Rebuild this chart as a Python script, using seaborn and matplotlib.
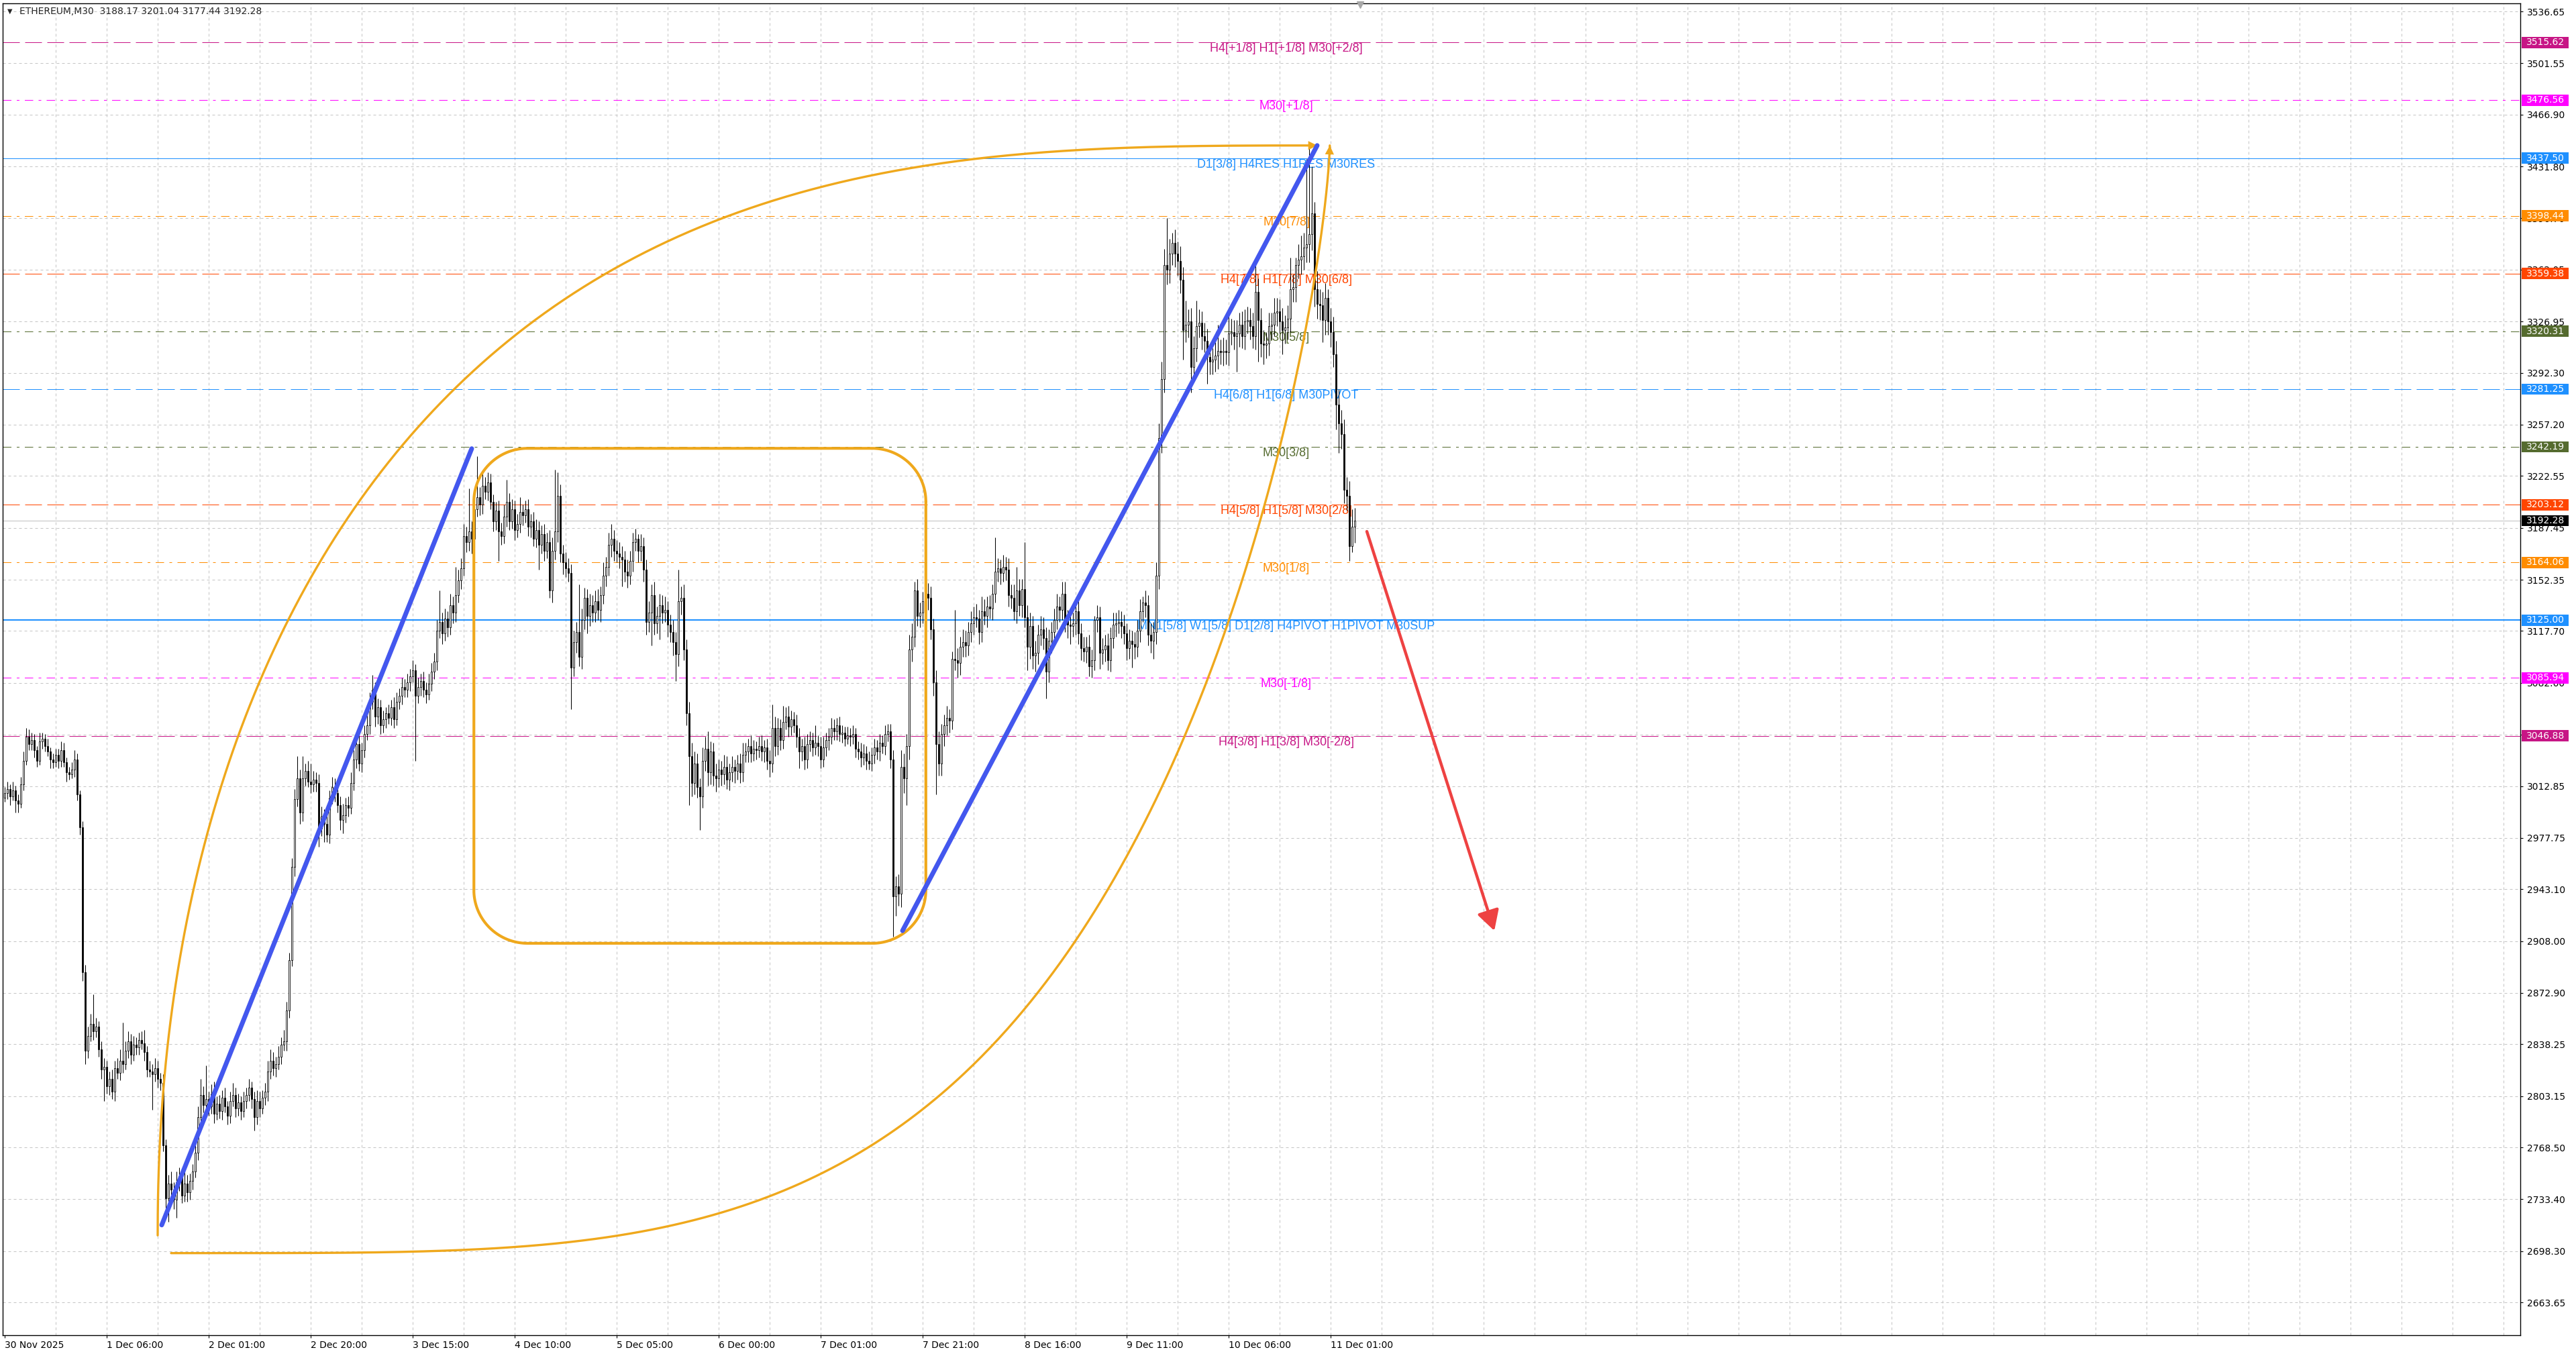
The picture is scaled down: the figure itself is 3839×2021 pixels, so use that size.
import numpy as np
import seaborn as sns
import matplotlib
matplotlib.use("Agg")
import matplotlib.pyplot as plt
from matplotlib.patches import Rectangle
from matplotlib.transforms import offset_copy

# ---- values (M30 bars, one per half hour) ----
first_open = 3005.0
closes = [
    3008, 3011, 3006, 3010, 3003, 3001, 3014, 3030, 3046, 3041,
    3044, 3037, 3030, 3043, 3045, 3040, 3036, 3031, 3029, 3034,
    3030, 3037, 3029, 3022, 3021, 3024, 3031, 3007, 2985, 2887,
    2834, 2844, 2852, 2847, 2850, 2835, 2821, 2823, 2810, 2815,
    2806, 2822, 2819, 2827, 2825, 2834, 2840, 2831, 2838, 2836,
    2841, 2839, 2833, 2821, 2820, 2818, 2822, 2815, 2812, 2770,
    2734, 2744, 2740, 2733, 2745, 2749, 2736, 2744, 2738, 2746,
    2752, 2765, 2789, 2804, 2797, 2801, 2796, 2805, 2791, 2798,
    2793, 2802, 2796, 2790, 2800, 2804, 2795, 2799, 2793, 2800,
    2804, 2809, 2801, 2789, 2800, 2795, 2802, 2806, 2820, 2827,
    2822, 2825, 2830, 2838, 2840, 2861, 2895, 2958, 3004, 3018,
    2995, 3018, 3023, 3016, 3014, 3017, 3015, 2984, 2992, 2987,
    2980, 3005, 3012, 3008, 3000, 2990, 2993, 3000, 2998, 3015,
    3031, 3041, 3028, 3037, 3048, 3054, 3070, 3078, 3060, 3066,
    3054, 3058, 3062, 3059, 3066, 3058, 3070, 3074, 3080, 3078,
    3083, 3087, 3091, 3074, 3080, 3084, 3078, 3075, 3082, 3090,
    3097, 3118, 3124, 3116, 3126, 3120, 3135, 3130, 3142, 3152,
    3160, 3182, 3178, 3185, 3180, 3200, 3208, 3203, 3216, 3212,
    3218, 3205, 3192, 3199, 3185, 3182, 3195, 3205, 3192, 3200,
    3186, 3190, 3198, 3196, 3200, 3188, 3192, 3180, 3186, 3176,
    3183, 3172, 3178, 3145, 3172, 3185, 3209, 3170, 3164, 3160,
    3157, 3093, 3110, 3117, 3100, 3125, 3140, 3128, 3135, 3130,
    3138, 3132, 3142, 3155, 3161, 3176, 3180, 3172, 3170, 3168,
    3166, 3158, 3155, 3165, 3178, 3180, 3172, 3175, 3159, 3124,
    3130, 3142, 3123, 3128, 3135, 3130, 3132, 3122, 3117, 3110,
    3102, 3138, 3140, 3105, 3062, 3033, 3015, 3028, 3012, 3006,
    3030, 3038, 3022, 3036, 3020, 3018, 3024, 3021, 3026, 3017,
    3022, 3026, 3023, 3028, 3022, 3034, 3036, 3040, 3035, 3038,
    3037, 3040, 3036, 3039, 3030, 3028, 3052, 3040, 3052, 3044,
    3056, 3060, 3053, 3058, 3054, 3046, 3036, 3040, 3031, 3041,
    3044, 3039, 3042, 3040, 3031, 3039, 3044, 3046, 3052, 3050,
    3054, 3048, 3049, 3045, 3047, 3046, 3048, 3038, 3036, 3032,
    3035, 3030, 3028, 3034, 3039, 3036, 3042, 3040, 3048, 3050,
    3031, 2938, 2945, 2940, 3026, 3018, 3040, 3105, 3114, 3145,
    3128, 3130, 3138, 3143, 3140, 3119, 3083, 3041, 3028, 3048,
    3054, 3059, 3057, 3099, 3098, 3096, 3107, 3110, 3108, 3117,
    3123, 3127, 3126, 3117, 3131, 3128, 3134, 3133, 3143, 3158,
    3160, 3157, 3161, 3159, 3142, 3140, 3131, 3145, 3135, 3146,
    3127, 3107, 3121, 3101, 3103, 3115, 3119, 3113, 3090, 3111,
    3117, 3125, 3134, 3132, 3143, 3125, 3122, 3121, 3123, 3131,
    3116, 3106, 3104, 3107, 3094, 3098, 3125, 3127, 3103, 3105,
    3108, 3098, 3113, 3122, 3123, 3124, 3121, 3116, 3106, 3111,
    3109, 3107, 3118, 3131, 3137, 3135, 3115, 3111, 3117, 3155,
    3248, 3288, 3365, 3362, 3373, 3380, 3373, 3368, 3355, 3321,
    3325, 3327, 3296, 3309, 3324, 3326, 3317, 3314, 3303, 3300,
    3301, 3304, 3307, 3306, 3307, 3306, 3319, 3320, 3317, 3319,
    3325, 3317, 3327, 3328, 3324, 3317, 3347, 3328, 3312, 3311,
    3312, 3324, 3325, 3333, 3334, 3327, 3321, 3323, 3329, 3349,
    3350, 3365, 3369, 3371, 3377, 3379, 3386, 3400, 3349, 3339,
    3338, 3328, 3343, 3327, 3320, 3305, 3271, 3258, 3251, 3213,
    3209, 3175, 3188.17, 3192.28,
]
wick_up = [
    4, 5, 3, 6, 3, 4, 5, 6, 6, 5,
    5, 4, 3, 6, 4, 3, 5, 3, 4, 4,
    4, 6, 5, 3, 4, 5, 6, 4, 3, 4,
    5, 6, 7, 20, 6, 4, 5, 6, 4, 5,
    6, 5, 7, 8, 26, 6, 7, 5, 6, 5,
    5, 6, 9, 4, 6, 5, 7, 5, 4, 6,
    4, 6, 8, 5, 7, 6, 5, 8, 6, 5,
    5, 6, 7, 11, 6, 23, 5, 6, 8, 5,
    6, 5, 7, 4, 6, 8, 5, 6, 4, 6,
    5, 6, 4, 5, 7, 6, 5, 6, 7, 8,
    6, 5, 7, 5, 8, 6, 5, 6, 7, 15,
    6, 15, 5, 7, 12, 6, 5, 6, 7, 5,
    6, 5, 7, 6, 5, 6, 8, 5, 6, 7,
    6, 7, 9, 5, 6, 7, 6, 10, 5, 6,
    5, 6, 4, 6, 5, 7, 6, 5, 6, 5,
    6, 5, 7, 4, 6, 5, 6, 5, 7, 6,
    6, 7, 21, 6, 7, 5, 8, 6, 19, 7,
    7, 8, 6, 29, 7, 9, 28, 7, 9, 6,
    7, 6, 5, 6, 7, 6, 8, 15, 6, 7,
    6, 7, 10, 5, 6, 7, 5, 6, 7, 6,
    6, 7, 6, 8, 9, 42, 16, 8, 6, 7,
    7, 6, 8, 7, 32, 8, 7, 6, 8, 7,
    7, 8, 6, 9, 7, 8, 10, 6, 7, 8,
    7, 6, 8, 7, 6, 7, 3, 8, 6, 7,
    8, 7, 9, 6, 8, 7, 9, 6, 7, 8,
    7, 21, 8, 9, 7, 8, 9, 8, 7, 6,
    9, 8, 12, 7, 6, 8, 7, 6, 8, 7,
    6, 7, 5, 6, 7, 8, 6, 5, 7, 6,
    5, 6, 7, 5, 6, 7, 16, 8, 7, 6,
    11, 6, 7, 6, 5, 7, 6, 5, 6, 7,
    6, 5, 12, 5, 6, 7, 5, 6, 7, 6,
    5, 6, 5, 4, 6, 5, 6, 4, 5, 6,
    6, 5, 6, 5, 6, 5, 6, 5, 6, 5,
    5, 6, 7, 8, 11, 9, 8, 10, 9, 6,
    8, 7, 6, 2, 7, 8, 7, 8, 9, 7,
    7, 8, 6, 5, 33, 8, 7, 9, 8, 7,
    8, 7, 9, 6, 10, 8, 7, 8, 6, 23,
    7, 6, 8, 7, 8, 7, 9, 16, 8, 7,
    32, 8, 9, 7, 8, 7, 9, 8, 7, 8,
    7, 8, 9, 7, 8, 8, 7, 8, 7, 8,
    8, 7, 8, 7, 8, 7, 3, 8, 7, 8,
    7, 8, 7, 8, 7, 8, 7, 8, 7, 8,
    7, 8, 7, 8, 4, 8, 7, 8, 7, 9,
    10, 12, 11, 32, 10, 7, 9, 8, 10, 9,
    16, 8, 9, 8, 17, 9, 8, 9, 8, 9,
    8, 9, 18, 8, 9, 8, 12, 9, 8, 9,
    8, 9, 8, 9, 8, 9, 21, 9, 8, 9,
    8, 9, 8, 10, 9, 8, 9, 8, 9, 21,
    9, 5, 10, 14, 10, 58, 59, 32, 8, 12,
    10, 9, 10, 6, 9, 10, 9, 10, 9, 10,
    9, 10, 12, 8.76,
]
wick_dn = [
    3, 4, 6, 3, 8, 6, 3, 4, 3, 4,
    4, 5, 4, 3, 5, 4, 3, 6, 4, 3,
    5, 4, 3, 6, 4, 3, 5, 4, 5, 6,
    9, 5, 4, 6, 4, 5, 6, 21, 5, 6,
    5, 6, 4, 5, 6, 4, 5, 6, 4, 5,
    5, 4, 6, 5, 4, 24, 5, 6, 5, 4,
    10, 16, 5, 6, 12, 6, 5, 4, 6, 5,
    6, 4, 5, 6, 5, 4, 6, 5, 6, 4,
    5, 6, 4, 6, 5, 4, 6, 5, 6, 4,
    5, 4, 6, 9, 5, 6, 4, 5, 6, 5,
    5, 6, 4, 5, 4, 6, 5, 4, 6, 5,
    8, 6, 5, 4, 6, 5, 6, 12, 5, 12,
    5, 6, 4, 6, 5, 7, 9, 5, 6, 4,
    5, 6, 5, 6, 5, 4, 6, 5, 7, 5,
    6, 5, 6, 4, 5, 6, 4, 5, 6, 5,
    5, 6, 4, 44, 5, 6, 5, 6, 4, 5,
    5, 6, 5, 7, 5, 6, 5, 7, 6, 5,
    6, 5, 7, 6, 10, 6, 5, 7, 6, 5,
    6, 5, 7, 6, 20, 6, 5, 7, 6, 5,
    7, 5, 6, 7, 5, 6, 7, 5, 6, 17,
    6, 7, 5, 5, 8, 6, 7, 6, 8, 6,
    6, 28, 6, 7, 6, 8, 6, 12, 7, 6,
    6, 7, 8, 6, 7, 6, 8, 7, 6, 8,
    18, 7, 8, 6, 7, 6, 8, 7, 8, 9,
    7, 22, 8, 7, 16, 7, 6, 8, 7, 9,
    18, 8, 9, 7, 8, 33, 9, 8, 7, 23,
    8, 7, 9, 8, 7, 9, 6, 8, 7, 6,
    7, 6, 8, 6, 7, 6, 5, 7, 6, 5,
    6, 5, 6, 7, 6, 9, 6, 7, 6, 7,
    6, 5, 7, 6, 5, 7, 11, 6, 7, 6,
    5, 6, 5, 7, 6, 5, 6, 7, 5, 6,
    6, 5, 6, 5, 4, 6, 5, 6, 5, 6,
    5, 6, 4, 5, 6, 5, 6, 5, 6, 5,
    6, 27, 13, 8, 9, 10, 18, 9, 8, 7,
    7, 8, 7, 6, 8, 7, 9, 34, 8, 8,
    8, 7, 8, 6, 7, 10, 8, 7, 8, 7,
    7, 8, 6, 8, 7, 6, 8, 7, 8, 6,
    7, 8, 6, 7, 8, 7, 6, 8, 7, 8,
    7, 16, 8, 9, 11, 8, 7, 8, 18, 7,
    8, 7, 6, 8, 7, 8, 9, 12, 7, 8,
    7, 8, 7, 8, 7, 8, 7, 8, 11, 8,
    8, 7, 8, 7, 8, 7, 8, 7, 8, 7,
    16, 8, 7, 8, 7, 8, 7, 8, 12, 8,
    9, 10, 9, 10, 9, 8, 9, 10, 9, 20,
    8, 9, 17, 8, 9, 8, 9, 8, 18, 9,
    9, 8, 9, 8, 9, 8, 9, 8, 9, 24,
    9, 8, 9, 8, 9, 8, 9, 28, 9, 13,
    9, 8, 9, 8, 9, 8, 16, 9, 8, 9,
    9, 10, 9, 10, 9, 10, 12, 11, 12, 10,
    10, 15, 10, 9, 10, 9, 17, 20, 10, 9,
    10, 10, 4, 10.73,
]

time_labels = ["30 Nov 2025", "1 Dec 06:00", "2 Dec 01:00", "2 Dec 20:00",
               "3 Dec 15:00", "4 Dec 10:00", "5 Dec 05:00", "6 Dec 00:00",
               "7 Dec 01:00", "7 Dec 21:00", "8 Dec 16:00", "9 Dec 11:00",
               "10 Dec 06:00", "11 Dec 01:00"]
price_ticks = [3536.65, 3501.55, 3466.90, 3431.80, 3396.70, 3362.05, 3326.95,
               3292.30, 3257.20, 3222.55, 3187.45, 3152.35, 3117.70, 3082.60,
               3047.50, 3012.85, 2977.75, 2943.10, 2908.00, 2872.90, 2838.25,
               2803.15, 2768.50, 2733.40, 2698.30, 2663.65]

level_prices = [3515.62, 3476.56, 3437.50, 3398.44, 3359.38, 3320.31, 3281.25,
                3242.19, 3203.12, 3164.06, 3125.00, 3085.94, 3046.88]
level_names = ["H4[+1/8] H1[+1/8] M30[+2/8]", "M30[+1/8]",
               "D1[3/8] H4RES H1RES M30RES", "M30[7/8]",
               "H4[7/8] H1[7/8] M30[6/8]", "M30[5/8]",
               "H4[6/8] H1[6/8] M30PIVOT", "M30[3/8]",
               "H4[5/8] H1[5/8] M30[2/8]", "M30[1/8]",
               "MN1[5/8] W1[5/8] D1[2/8] H4PIVOT H1PIVOT M30SUP",
               "M30[-1/8]", "H4[3/8] H1[3/8] M30[-2/8]"]
level_colors = ["#C71585", "#FF00FF", "#1E90FF", "#FF8C00", "#FF4500", "#556B2F",
                "#1E90FF", "#556B2F", "#FF4500", "#FF8C00", "#1E90FF", "#FF00FF",
                "#C71585"]
level_kinds = ["dash", "dashdot", "thin", "dashdot", "dash", "dashdot", "dash",
               "dashdot", "dash", "dashdot", "thick", "dashdot", "dash"]

last_price = 3192.28
title = "ETHEREUM,M30  3188.17 3201.04 3177.44 3192.28"

# hand drawn objects (bar index, price)
blue_leg_1 = ([58.5, 174.0], [2716.0, 3241.0])
blue_leg_2 = ([334.5, 489.0], [2915.0, 3446.0])
red_arrow = ([507.5, 555.0], [3185.0, 2915.0])
range_box = (174.8, 343.2, 2906.5, 3241.2)
# corner x, corner y, x radius, y radius, x exponent, y exponent
arc_upper = (489.0, 2709.0, 432.0, 737.0, 3.0, 2.1)
arc_lower = (62.0, 3446.0, 431.7, 749.0, 4.0, 1.4)

ORANGE = "#EFA81C"
BLUE = "#4357EE"

sns.set_theme(style="white")
plt.rcParams["font.family"] = ["DejaVu Sans"]

W, H = 3839, 2021
fig = plt.figure(figsize=(W / 100, H / 100), dpi=100)
fig.patch.set_facecolor("white")
ax = fig.add_axes([4 / W, 1 - 1990 / H, (3756 - 4) / W, (1990 - 5) / H])
ax.set_facecolor("white")
ax.set_xlim(-0.75, 937.25)
ax.set_ylim(2641.5, 3542.1)

PX = 0.72  # one pixel in points at 100 dpi

# grid
grid_kw = dict(color="#C4C4C4", lw=PX, ls=(0, (4, 4)), zorder=0, snap=True)
for p in price_ticks:
    ax.axhline(p, **grid_kw)
for b in range(19, 938, 19):
    ax.axvline(b, **grid_kw)

# murrey levels
styles = {"dash": (0, (25, 8)), "dashdot": (0, (12.5, 8, 4, 8)), "thin": "-", "thick": "-"}
lab_tr = offset_copy(ax.transData, fig=fig, y=-1, units="dots")
for p, name, col, kind in zip(level_prices, level_names, level_colors, level_kinds):
    ax.axhline(p, color=col, lw=2 * PX if kind == "thick" else PX, ls=styles[kind],
               zorder=1, snap=True)
    ax.text(477.5, p, name, transform=lab_tr, ha="center", va="top", color=col,
            fontsize=13, family="Liberation Sans", zorder=2)
ax.axhline(last_price, color="#C0C0C0", lw=PX, zorder=1, snap=True)

# candles
c = np.array(closes, dtype=float)
o = np.concatenate([[first_open], c[:-1]])
hi = np.maximum(o, c) + np.array(wick_up, dtype=float)
lo = np.minimum(o, c) - np.array(wick_dn, dtype=float)
idx = np.arange(len(c))
bull = c >= o
ax.vlines(idx, lo, hi, color="black", lw=0.75, zorder=3)
ax.bar(idx, np.maximum(np.abs(c - o), 0.6), bottom=np.minimum(o, c), width=0.55,
       color=np.where(bull, "white", "black"), edgecolor="black", linewidth=0.6, zorder=4)

# orange range box with rounded corners
x0, x1, y0, y1 = range_box
rx, ry = 20.0, 36.0
a = np.linspace(0, np.pi / 2, 40)
bx = np.concatenate([x1 - rx + rx * np.cos(a), x0 + rx - rx * np.sin(a),
                     x0 + rx - rx * np.cos(a), x1 - rx + rx * np.sin(a), [x1]])
by = np.concatenate([y1 - ry + ry * np.sin(a), y1 - ry + ry * np.cos(a),
                     y0 + ry - ry * np.sin(a), y0 + ry - ry * np.cos(a), [y1 - ry]])
ax.plot(bx, by, color=ORANGE, lw=3.0, zorder=5, solid_joinstyle="round")

# orange arcs with arrow heads
t = np.linspace(0, np.pi / 2, 400)
cx, cy, arx, ary, px, qy = arc_upper
xa = cx - arx * np.cos(t) ** (2 / px)
ya = cy + ary * np.sin(t) ** (2 / qy)
cx, cy, arx, ary, px, qy = arc_lower
xb = cx + arx * np.sin(t) ** (2 / px)
yb = cy - ary * np.cos(t) ** (2 / qy)
for xs, ys in ((xa, ya), (xb, yb)):
    sns.lineplot(x=xs, y=ys, ax=ax, color=ORANGE, linewidth=2.4, sort=False,
                 estimator=None, zorder=5)
    ax.annotate("", xy=(xs[-1], ys[-1]), xytext=(xs[-8], ys[-8]),
                arrowprops=dict(arrowstyle="-|>,head_length=0.8,head_width=0.4",
                                color=ORANGE, lw=0, mutation_scale=12,
                                shrinkA=0, shrinkB=0), zorder=6)

# blue impulse legs
for xs, ys in (blue_leg_1, blue_leg_2):
    sns.lineplot(x=xs, y=ys, ax=ax, color=BLUE, linewidth=5, zorder=6,
                 solid_capstyle="round")

# red projection arrow
ax.annotate("", xy=(red_arrow[0][1], red_arrow[1][1]),
            xytext=(red_arrow[0][0], red_arrow[1][0]),
            arrowprops=dict(arrowstyle="-|>,head_length=0.9,head_width=0.5",
                            color="#EE4242", lw=3.2, mutation_scale=20,
                            shrinkA=0, shrinkB=0, capstyle="round"), zorder=7)

# chart shift marker
ax.plot([505], [3541.0], marker="v", ms=7, color="#A8A8A8", clip_on=False, zorder=8)

# axes, ticks
for s in ax.spines.values():
    s.set_visible(True)
    s.set_color("black")
    s.set_linewidth(1.0)
ax.yaxis.tick_right()
ax.set_yticks(price_ticks)
ax.set_yticklabels([f"{p:.2f}" for p in price_ticks])
ax.set_xticks(np.arange(len(time_labels)) * 38)
ax.set_xticklabels(time_labels, ha="left")
ax.tick_params(axis="y", right=True, left=False, length=3, width=0.8, pad=4,
               labelsize=10, colors="black")
ax.tick_params(axis="x", bottom=True, length=3, width=0.8, pad=3,
               labelsize=10, colors="black")
ax.set_xlabel("")
ax.set_ylabel("")

# price boxes on the scale
ytr = ax.get_yaxis_transform()
box_h = 7.6
for p, col in list(zip(level_prices, level_colors)) + [(last_price, "black")]:
    ax.add_patch(Rectangle((1.0005, p - box_h / 2), 0.0188, box_h, transform=ytr,
                           facecolor=col, edgecolor="none", clip_on=False, zorder=30))
    ax.text(1.0025, p, f"{p:.2f}", transform=ytr, ha="left", va="center",
            fontsize=10, color="white", clip_on=False, zorder=31)

# title
fig.text(11 / W, 1 - 17 / H, "\u25BC", fontsize=7, va="center", ha="left")
fig.text(29 / W, 1 - 17 / H, title, fontsize=10, va="center", ha="left")

fig.savefig("out.png", dpi=100)
